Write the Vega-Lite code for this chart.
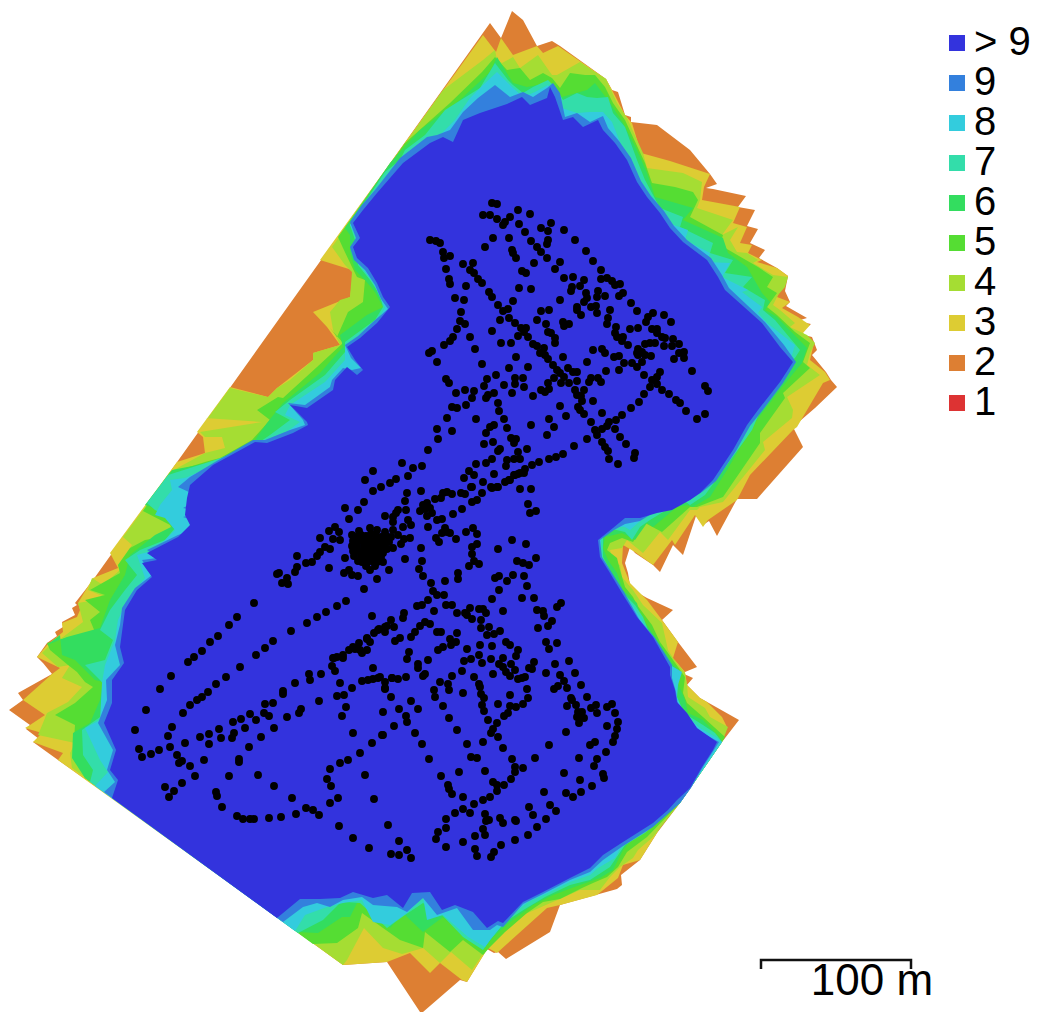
{"$schema":"https://vega.github.io/schema/vega-lite/v6.json","width":1037,"height":1012,"padding":0,"autosize":{"type":"none"},"background":"white","config":{"view":{"stroke":null}},"projection":{"type":"identity","scale":1,"translate":[0,0]},"datasets":{"zones":[
{"type":"Feature","properties":{"level":"2"},"geometry":{"type":"Polygon","coordinates":[[[490,23],[501,38],[512,11],[523,20],[537,46],[552,41],[560,46],[606,79],[612,90],[618,92],[625,115],[631,117],[631,122],[657,125],[690,150],[710,174],[717,184],[706,188],[713,189],[746,196],[738,207],[755,210],[747,226],[758,229],[750,243],[765,250],[759,258],[777,268],[788,276],[785,291],[790,302],[786,306],[807,318],[797,321],[811,324],[800,334],[812,337],[817,350],[812,355],[826,372],[831,380],[837,387],[815,408],[793,427],[803,447],[757,499],[737,499],[717,536],[709,521],[703,525],[696,516],[683,555],[673,545],[660,572],[653,565],[635,553],[630,547],[625,563],[628,573],[630,585],[633,590],[647,598],[673,610],[662,620],[678,642],[697,667],[685,672],[684,674],[693,678],[687,685],[700,698],[739,720],[722,742],[680,803],[657,833],[640,860],[621,875],[622,885],[617,889],[560,905],[550,932],[506,959],[498,952],[494,953],[487,949],[467,982],[460,980],[423,1012],[420,1012],[387,962],[343,965],[112,798],[58,760],[33,742],[39,739],[26,729],[30,725],[9,710],[23,700],[18,693],[52,674],[43,663],[37,657],[47,643],[57,636],[55,632],[63,627],[62,622],[75,615],[72,608],[77,605],[75,603],[93,580],[490,23]]]}},
{"type":"Feature","properties":{"level":"3"},"geometry":{"type":"Polygon","coordinates":[[[483,35],[496,52],[501,38],[513,55],[537,46],[543,53],[558,46],[606,79],[612,90],[625,115],[632,123],[641,153],[670,161],[710,174],[704,187],[702,200],[740,207],[733,223],[747,227],[740,243],[752,245],[748,253],[762,260],[757,262],[777,268],[788,276],[777,297],[790,302],[782,308],[798,317],[810,325],[803,333],[814,343],[810,360],[825,372],[830,380],[823,383],[797,427],[793,430],[750,475],[737,500],[708,520],[703,527],[695,515],[675,545],[672,540],[653,565],[635,552],[623,545],[622,563],[630,583],[647,600],[662,620],[678,642],[673,658],[685,672],[687,685],[700,698],[707,702],[722,717],[727,727],[720,743],[680,803],[668,813],[657,833],[640,860],[623,865],[618,878],[597,895],[560,905],[547,908],[497,953],[488,948],[467,982],[462,980],[440,963],[430,973],[410,953],[387,962],[343,965],[58,760],[63,753],[33,742],[42,733],[25,728],[30,725],[45,715],[23,700],[52,674],[60,668],[37,657],[47,645],[63,632],[62,623],[77,617],[80,610],[78,603],[93,578],[118,568],[110,553],[177,462],[205,453],[203,437],[197,432],[230,387],[268,397],[277,388],[313,360],[313,353],[340,345],[327,327],[313,312],[350,297],[352,283],[352,270],[320,260],[483,35]]]}},
{"type":"Feature","properties":{"level":"4"},"geometry":{"type":"Polygon","coordinates":[[[443,90],[483,60],[495,50],[497,60],[502,63],[513,57],[520,68],[538,55],[552,75],[557,75],[580,62],[592,70],[606,79],[617,103],[627,118],[643,153],[647,168],[683,173],[702,182],[700,200],[697,208],[733,220],[722,235],[738,227],[730,240],[737,252],[747,253],[758,260],[753,263],[773,275],[788,277],[785,287],[778,295],[773,305],[780,310],[795,323],[790,327],[807,335],[815,343],[810,353],[807,365],[820,375],[787,397],[793,410],[792,418],[763,442],[765,450],[723,502],[700,507],[697,510],[690,510],[668,540],[660,532],[643,553],[627,540],[622,548],[610,550],[613,562],[620,565],[622,577],[627,583],[633,590],[643,605],[662,623],[668,650],[673,658],[685,673],[687,685],[688,697],[705,708],[710,717],[728,727],[722,742],[680,803],[653,837],[638,850],[633,858],[620,867],[610,877],[600,890],[580,890],[562,898],[523,915],[503,933],[492,942],[487,948],[472,970],[451,952],[440,963],[423,948],[402,954],[383,948],[364,928],[347,960],[343,965],[72,768],[70,753],[75,743],[38,735],[43,723],[47,713],[68,702],[82,687],[62,678],[70,665],[58,667],[42,653],[48,647],[63,637],[83,622],[80,610],[78,603],[107,598],[88,590],[92,578],[103,585],[120,570],[118,565],[132,545],[123,537],[143,510],[170,472],[205,453],[225,448],[222,437],[205,437],[200,432],[262,422],[205,418],[208,418],[230,388],[268,397],[277,388],[290,380],[313,360],[313,353],[340,345],[333,330],[330,312],[340,300],[350,297],[352,272],[345,265],[332,247],[443,90]]]}},
{"type":"Feature","properties":{"level":"5"},"geometry":{"type":"Polygon","coordinates":[[[405,143],[450,103],[482,72],[495,57],[507,70],[520,68],[530,80],[543,73],[552,78],[560,88],[570,73],[585,75],[595,75],[605,87],[613,103],[625,120],[645,163],[652,183],[675,187],[693,192],[698,200],[690,217],[723,235],[720,245],[758,267],[773,277],[767,287],[777,293],[767,307],[777,315],[795,332],[810,343],[803,362],[810,368],[783,393],[785,398],[760,433],[760,443],[723,497],[697,507],[690,507],[662,532],[645,523],[633,542],[622,538],[610,543],[607,550],[617,558],[620,570],[625,587],[633,597],[637,605],[652,625],[660,642],[668,653],[678,667],[685,677],[683,693],[687,703],[703,717],[725,737],[722,742],[680,803],[647,837],[627,852],[618,867],[607,877],[593,883],[582,888],[560,899],[543,902],[527,913],[505,932],[490,947],[483,955],[463,940],[450,952],[425,932],[423,948],[400,940],[383,928],[362,913],[358,928],[337,943],[313,944],[85,778],[73,755],[75,725],[55,715],[75,703],[93,687],[85,682],[77,672],[68,665],[50,650],[47,643],[70,637],[95,632],[90,620],[100,612],[85,600],[105,595],[90,590],[120,573],[118,565],[130,548],[145,540],[175,535],[170,525],[143,511],[170,473],[205,462],[220,458],[252,440],[270,420],[257,410],[278,397],[283,398],[317,367],[343,343],[330,328],[337,337],[348,312],[363,302],[365,280],[357,277],[352,267],[343,248],[338,237],[405,143]]]}},
{"type":"Feature","properties":{"level":"6"},"geometry":{"type":"Polygon","coordinates":[[[390,163],[420,130],[460,100],[490,72],[497,57],[513,83],[527,87],[548,83],[562,97],[587,90],[595,83],[610,103],[623,123],[637,150],[647,173],[655,197],[693,208],[683,220],[723,238],[728,253],[747,267],[762,293],[770,302],[765,310],[777,317],[807,348],[802,363],[782,387],[753,425],[727,470],[710,497],[693,507],[687,505],[677,507],[653,527],[647,523],[635,540],[622,533],[605,537],[603,548],[608,560],[617,573],[623,590],[637,603],[640,615],[655,637],[672,663],[678,670],[678,683],[685,700],[688,713],[703,720],[720,738],[722,742],[680,803],[637,833],[623,850],[613,870],[600,878],[577,886],[553,895],[533,905],[510,922],[493,937],[483,950],[467,937],[443,917],[423,932],[403,913],[390,928],[373,907],[360,897],[350,917],[342,917],[318,933],[297,932],[85,778],[72,758],[73,733],[90,723],[100,700],[103,682],[95,680],[75,660],[62,655],[60,635],[47,645],[67,637],[100,628],[110,600],[125,575],[130,555],[155,535],[175,525],[160,510],[145,505],[172,470],[213,462],[253,443],[267,423],[283,403],[320,373],[343,347],[340,335],[367,315],[383,307],[375,292],[365,280],[355,270],[350,252],[350,235],[345,228],[390,163]]]}},
{"type":"Feature","properties":{"level":"7"},"geometry":{"type":"Polygon","coordinates":[[[385,172],[400,160],[405,150],[425,135],[445,110],[480,88],[495,63],[508,80],[513,85],[523,93],[533,87],[548,80],[555,87],[563,100],[577,93],[587,97],[597,98],[608,97],[613,113],[625,127],[637,160],[645,180],[660,208],[683,217],[680,227],[713,243],[710,253],[733,260],[725,273],[752,277],[743,287],[765,300],[763,310],[775,320],[800,350],[795,358],[785,365],[770,388],[752,430],[745,440],[705,495],[690,505],[683,500],[650,520],[640,527],[632,540],[625,532],[612,529],[603,535],[603,545],[603,557],[610,570],[622,592],[635,605],[643,617],[650,635],[665,660],[668,665],[678,670],[675,690],[677,702],[687,715],[703,725],[715,733],[722,742],[680,803],[668,813],[645,833],[625,845],[610,867],[590,880],[570,885],[545,897],[525,909],[505,922],[490,940],[483,950],[463,937],[442,915],[423,903],[405,915],[387,928],[360,903],[345,902],[340,903],[323,920],[298,933],[90,782],[93,770],[83,755],[82,730],[93,722],[103,715],[108,690],[100,680],[85,665],[105,660],[113,640],[100,630],[110,610],[125,590],[137,575],[125,560],[140,550],[165,540],[175,528],[165,515],[155,510],[147,503],[168,475],[190,468],[215,460],[255,445],[270,435],[290,420],[275,412],[290,400],[325,375],[345,352],[345,342],[375,320],[383,307],[380,295],[370,280],[358,265],[355,240],[350,225],[385,172]]]}},
{"type":"Feature","properties":{"level":"8"},"geometry":{"type":"Polygon","coordinates":[[[370,197],[375,190],[393,170],[400,165],[420,150],[440,135],[455,120],[470,98],[483,85],[497,72],[513,88],[523,97],[535,92],[548,85],[555,97],[562,108],[577,113],[590,112],[603,112],[612,122],[620,142],[630,167],[640,185],[653,207],[668,223],[688,230],[685,240],[710,253],[707,262],[730,263],[722,277],[748,290],[742,292],[762,307],[758,313],[767,323],[795,345],[792,355],[785,365],[770,385],[750,410],[742,425],[745,432],[720,465],[703,490],[688,500],[680,497],[660,510],[647,515],[630,530],[625,527],[612,526],[603,530],[601,541],[601,555],[610,572],[620,590],[632,605],[640,617],[650,635],[660,650],[667,662],[670,665],[682,672],[678,685],[677,697],[685,715],[700,728],[717,738],[722,742],[680,803],[668,813],[640,830],[625,840],[615,858],[598,868],[590,875],[570,882],[550,892],[528,902],[508,918],[490,940],[485,947],[468,937],[443,915],[427,920],[423,897],[407,913],[390,925],[373,922],[362,900],[343,903],[327,907],[305,915],[295,931],[95,786],[108,772],[100,760],[93,745],[85,728],[100,720],[102,683],[105,665],[115,640],[118,620],[125,605],[135,590],[145,578],[137,555],[155,550],[175,530],[165,518],[155,515],[160,505],[172,490],[170,480],[185,478],[215,465],[222,462],[255,447],[285,433],[300,422],[285,415],[290,405],[325,382],[345,360],[345,345],[375,325],[385,308],[378,293],[373,282],[360,265],[358,240],[350,225],[360,212],[368,205],[370,197]]]}},
{"type":"Feature","properties":{"level":"9"},"geometry":{"type":"Polygon","coordinates":[[[283,922],[303,907],[317,903],[330,907],[343,900],[362,897],[373,905],[397,907],[407,912],[423,898],[437,915],[457,908],[473,930],[490,930],[497,925],[503,927],[523,904],[543,894],[570,880],[590,872],[603,860],[623,846],[653,827],[670,812],[680,803],[691,788],[703,767],[714,750],[719,742],[699,731],[688,717],[678,705],[676,692],[672,678],[672,665],[655,638],[639,619],[624,592],[612,573],[602,557],[600,540],[614,530],[625,524],[640,521],[653,513],[647,498],[657,500],[660,510],[672,505],[690,500],[702,492],[716,481],[736,451],[750,426],[762,411],[783,383],[796,362],[784,345],[765,322],[729,288],[722,275],[711,258],[687,240],[674,226],[664,211],[651,196],[641,181],[631,158],[619,141],[608,128],[603,116],[590,122],[577,113],[565,117],[560,93],[553,83],[547,88],[533,97],[523,92],[510,97],[495,85],[478,98],[463,112],[450,130],[437,135],[427,137],[400,158],[375,190],[362,205],[350,222],[356,238],[350,247],[354,260],[365,270],[375,285],[381,299],[388,309],[374,321],[358,336],[345,345],[351,358],[361,368],[352,370],[343,368],[332,380],[330,387],[305,405],[288,403],[303,420],[305,425],[290,430],[265,440],[253,440],[215,462],[190,477],[178,487],[202,498],[183,508],[200,512],[183,517],[207,525],[178,535],[147,550],[157,558],[142,560],[152,575],[135,588],[122,608],[120,625],[115,645],[120,665],[106,680],[107,700],[98,723],[113,750],[107,770],[115,782],[104,792],[283,922]]]}},
{"type":"Feature","properties":{"level":"> 9"},"geometry":{"type":"Polygon","coordinates":[[[112,798],[277,918],[300,899],[320,899],[340,898],[353,892],[363,895],[373,898],[387,895],[403,908],[412,893],[430,892],[442,910],[455,905],[473,912],[487,928],[498,921],[503,923],[523,902],[543,892],[570,878],[590,868],[603,855],[623,842],[653,823],[668,810],[677,800],[690,788],[702,767],[713,750],[717,742],[697,728],[687,713],[677,702],[675,690],[670,675],[670,667],[653,637],[637,617],[622,593],[610,573],[600,557],[598,540],[613,528],[625,518],[640,518],[657,513],[672,510],[690,500],[700,493],[713,480],[733,450],[747,425],[758,410],[780,382],[793,362],[780,347],[762,323],[725,290],[718,277],[707,260],[683,242],[670,228],[660,213],[647,197],[637,182],[627,160],[615,143],[603,130],[598,120],[583,127],[573,117],[563,120],[555,97],[550,87],[547,98],[530,105],[522,97],[507,104],[480,113],[463,120],[453,142],[443,137],[430,143],[403,163],[377,193],[363,210],[353,223],[360,238],[353,247],[357,258],[368,268],[377,283],[383,297],[390,307],[377,323],[360,338],[347,347],[355,360],[363,370],[357,375],[347,367],[335,380],[333,390],[307,408],[290,405],[307,422],[308,425],[293,433],[267,443],[255,442],[213,465],[190,485],[187,498],[185,515],[190,525],[178,537],[147,553],[157,560],[142,563],[152,577],[137,590],[125,610],[120,647],[124,663],[112,680],[112,703],[104,723],[116,750],[110,770],[118,780],[112,798]]]}}
],"bar":[{"type":"Feature","properties":{"name":"scale"},"geometry":{"type":"LineString","coordinates":[[761,969],[761,960],[911,960],[911,969]]}}],
"note":[{"x":872,"y":995,"label":"100 m"}],
"gcps":[{"x":492,"y":203},{"x":497,"y":204},{"x":483,"y":215},{"x":490,"y":215},{"x":497,"y":219},{"x":503,"y":225},{"x":505,"y":222},{"x":510,"y":217},{"x":518,"y":210},{"x":530,"y":214},{"x":519,"y":224},{"x":525,"y":232},{"x":541,"y":228},{"x":548,"y":231},{"x":551,"y":223},{"x":564,"y":230},{"x":575,"y":240},{"x":586,"y":251},{"x":593,"y":261},{"x":601,"y":270},{"x":493,"y":238},{"x":485,"y":247},{"x":509,"y":238},{"x":512,"y":250},{"x":513,"y":253},{"x":516,"y":258},{"x":531,"y":241},{"x":537,"y":247},{"x":541,"y":252},{"x":547,"y":258},{"x":548,"y":240},{"x":547,"y":244},{"x":534,"y":263},{"x":560,"y":262},{"x":555,"y":269},{"x":522,"y":271},{"x":526,"y":273},{"x":430,"y":240},{"x":436,"y":241},{"x":440,"y":243},{"x":443,"y":252},{"x":444,"y":258},{"x":450,"y":256},{"x":446,"y":269},{"x":463,"y":264},{"x":473,"y":263},{"x":470,"y":270},{"x":474,"y":273},{"x":449,"y":279},{"x":450,"y":284},{"x":466,"y":286},{"x":478,"y":279},{"x":482,"y":283},{"x":489,"y":292},{"x":492,"y":297},{"x":455,"y":298},{"x":464,"y":300},{"x":498,"y":305},{"x":503,"y":311},{"x":508,"y":309},{"x":513,"y":301},{"x":519,"y":288},{"x":531,"y":289},{"x":461,"y":312},{"x":460,"y":321},{"x":465,"y":324},{"x":457,"y":329},{"x":453,"y":337},{"x":450,"y":341},{"x":444,"y":345},{"x":432,"y":351},{"x":429,"y":353},{"x":437,"y":362},{"x":470,"y":337},{"x":475,"y":349},{"x":482,"y":364},{"x":492,"y":331},{"x":500,"y":320},{"x":509,"y":318},{"x":515,"y":323},{"x":521,"y":328},{"x":526,"y":328},{"x":518,"y":336},{"x":524,"y":332},{"x":528,"y":337},{"x":533,"y":344},{"x":537,"y":346},{"x":544,"y":348},{"x":540,"y":353},{"x":545,"y":355},{"x":548,"y":359},{"x":553,"y":365},{"x":557,"y":370},{"x":560,"y":373},{"x":564,"y":377},{"x":501,"y":343},{"x":511,"y":343},{"x":516,"y":357},{"x":509,"y":368},{"x":528,"y":367},{"x":563,"y":357},{"x":587,"y":362},{"x":564,"y":278},{"x":573,"y":277},{"x":584,"y":280},{"x":580,"y":286},{"x":572,"y":287},{"x":571,"y":291},{"x":586,"y":293},{"x":587,"y":298},{"x":584,"y":302},{"x":560,"y":300},{"x":598,"y":291},{"x":597,"y":297},{"x":605,"y":296},{"x":601,"y":279},{"x":607,"y":278},{"x":612,"y":281},{"x":615,"y":285},{"x":620,"y":284},{"x":623,"y":293},{"x":619,"y":296},{"x":631,"y":303},{"x":637,"y":311},{"x":591,"y":307},{"x":596,"y":306},{"x":597,"y":313},{"x":577,"y":307},{"x":577,"y":310},{"x":581,"y":315},{"x":610,"y":310},{"x":608,"y":318},{"x":607,"y":324},{"x":541,"y":311},{"x":549,"y":310},{"x":537,"y":320},{"x":546,"y":324},{"x":548,"y":332},{"x":551,"y":333},{"x":555,"y":338},{"x":555,"y":343},{"x":563,"y":322},{"x":564,"y":326},{"x":569,"y":324},{"x":616,"y":327},{"x":615,"y":333},{"x":617,"y":337},{"x":623,"y":337},{"x":622,"y":341},{"x":628,"y":345},{"x":630,"y":329},{"x":638,"y":328},{"x":646,"y":322},{"x":648,"y":317},{"x":653,"y":313},{"x":664,"y":315},{"x":671,"y":322},{"x":652,"y":329},{"x":657,"y":329},{"x":657,"y":333},{"x":662,"y":337},{"x":665,"y":338},{"x":673,"y":339},{"x":664,"y":346},{"x":672,"y":346},{"x":679,"y":344},{"x":655,"y":343},{"x":650,"y":343},{"x":645,"y":344},{"x":638,"y":349},{"x":637,"y":353},{"x":642,"y":352},{"x":638,"y":355},{"x":645,"y":355},{"x":651,"y":356},{"x":642,"y":362},{"x":679,"y":353},{"x":684,"y":352},{"x":684,"y":358},{"x":674,"y":359},{"x":593,"y":350},{"x":602,"y":349},{"x":605,"y":353},{"x":614,"y":357},{"x":619,"y":356},{"x":624,"y":363},{"x":632,"y":363},{"x":637,"y":367},{"x":619,"y":370},{"x":606,"y":371},{"x":568,"y":368},{"x":573,"y":372},{"x":577,"y":372},{"x":644,"y":375},{"x":660,"y":372},{"x":657,"y":377},{"x":652,"y":380},{"x":655,"y":380},{"x":657,"y":384},{"x":650,"y":387},{"x":692,"y":371},{"x":705,"y":386},{"x":708,"y":391},{"x":662,"y":390},{"x":669,"y":394},{"x":676,"y":400},{"x":680,"y":403},{"x":686,"y":411},{"x":697,"y":419},{"x":705,"y":414},{"x":644,"y":394},{"x":639,"y":402},{"x":631,"y":408},{"x":622,"y":415},{"x":616,"y":420},{"x":609,"y":422},{"x":607,"y":426},{"x":602,"y":429},{"x":615,"y":429},{"x":620,"y":437},{"x":626,"y":444},{"x":635,"y":453},{"x":634,"y":458},{"x":618,"y":464},{"x":609,"y":459},{"x":608,"y":451},{"x":605,"y":447},{"x":602,"y":442},{"x":597,"y":435},{"x":595,"y":430},{"x":591,"y":422},{"x":584,"y":414},{"x":580,"y":410},{"x":578,"y":407},{"x":593,"y":401},{"x":602,"y":413},{"x":587,"y":439},{"x":574,"y":446},{"x":563,"y":454},{"x":556,"y":457},{"x":549,"y":459},{"x":539,"y":462},{"x":532,"y":465},{"x":525,"y":469},{"x":524,"y":473},{"x":518,"y":474},{"x":514,"y":475},{"x":509,"y":480},{"x":505,"y":482},{"x":515,"y":378},{"x":523,"y":378},{"x":515,"y":384},{"x":524,"y":387},{"x":504,"y":385},{"x":512,"y":393},{"x":533,"y":396},{"x":541,"y":390},{"x":545,"y":392},{"x":549,"y":389},{"x":548,"y":383},{"x":554,"y":378},{"x":561,"y":383},{"x":569,"y":383},{"x":577,"y":381},{"x":589,"y":382},{"x":591,"y":378},{"x":598,"y":378},{"x":601,"y":382},{"x":584,"y":390},{"x":575,"y":390},{"x":577,"y":395},{"x":581,"y":396},{"x":582,"y":401},{"x":560,"y":406},{"x":566,"y":416},{"x":549,"y":419},{"x":554,"y":427},{"x":547,"y":435},{"x":531,"y":425},{"x":496,"y":375},{"x":487,"y":379},{"x":484,"y":386},{"x":494,"y":393},{"x":488,"y":395},{"x":486,"y":398},{"x":446,"y":379},{"x":449,"y":383},{"x":456,"y":393},{"x":465,"y":390},{"x":474,"y":391},{"x":472,"y":398},{"x":466,"y":405},{"x":452,"y":407},{"x":457,"y":408},{"x":498,"y":403},{"x":499,"y":411},{"x":504,"y":419},{"x":507,"y":428},{"x":476,"y":419},{"x":447,"y":418},{"x":437,"y":429},{"x":452,"y":431},{"x":438,"y":439},{"x":428,"y":450},{"x":422,"y":466},{"x":413,"y":468},{"x":408,"y":476},{"x":396,"y":479},{"x":390,"y":483},{"x":381,"y":487},{"x":402,"y":463},{"x":373,"y":471},{"x":365,"y":480},{"x":494,"y":425},{"x":490,"y":427},{"x":486,"y":433},{"x":493,"y":442},{"x":484,"y":444},{"x":511,"y":438},{"x":516,"y":439},{"x":514,"y":443},{"x":500,"y":449},{"x":498,"y":451},{"x":527,"y":449},{"x":518,"y":452},{"x":520,"y":459},{"x":514,"y":459},{"x":507,"y":460},{"x":506,"y":466},{"x":492,"y":459},{"x":486,"y":463},{"x":476,"y":464},{"x":469,"y":471},{"x":464,"y":478},{"x":474,"y":475},{"x":494,"y":474},{"x":483,"y":482},{"x":471,"y":487},{"x":491,"y":487},{"x":497,"y":487},{"x":520,"y":489},{"x":531,"y":489},{"x":373,"y":491},{"x":364,"y":502},{"x":358,"y":510},{"x":345,"y":508},{"x":349,"y":519},{"x":335,"y":527},{"x":329,"y":531},{"x":339,"y":532},{"x":320,"y":538},{"x":333,"y":539},{"x":340,"y":540},{"x":325,"y":547},{"x":330,"y":549},{"x":320,"y":552},{"x":317,"y":556},{"x":297,"y":556},{"x":312,"y":562},{"x":306,"y":563},{"x":297,"y":567},{"x":295,"y":572},{"x":279,"y":573},{"x":277,"y":574},{"x":287,"y":578},{"x":282,"y":583},{"x":288,"y":584},{"x":329,"y":568},{"x":345,"y":558},{"x":344,"y":573},{"x":349,"y":570},{"x":352,"y":575},{"x":358,"y":576},{"x":377,"y":579},{"x":364,"y":589},{"x":389,"y":570},{"x":370,"y":570},{"x":405,"y":559},{"x":352,"y":535},{"x":359,"y":531},{"x":370,"y":528},{"x":377,"y":530},{"x":385,"y":532},{"x":393,"y":530},{"x":398,"y":535},{"x":356,"y":537},{"x":361,"y":535},{"x":366,"y":536},{"x":371,"y":534},{"x":376,"y":536},{"x":381,"y":537},{"x":386,"y":536},{"x":391,"y":537},{"x":353,"y":541},{"x":359,"y":541},{"x":364,"y":541},{"x":369,"y":540},{"x":374,"y":541},{"x":379,"y":542},{"x":384,"y":541},{"x":389,"y":542},{"x":352,"y":546},{"x":357,"y":546},{"x":364,"y":546},{"x":369,"y":546},{"x":374,"y":547},{"x":379,"y":546},{"x":384,"y":546},{"x":387,"y":549},{"x":353,"y":551},{"x":359,"y":551},{"x":364,"y":552},{"x":369,"y":551},{"x":374,"y":551},{"x":379,"y":552},{"x":383,"y":553},{"x":354,"y":556},{"x":361,"y":556},{"x":366,"y":557},{"x":371,"y":556},{"x":376,"y":556},{"x":381,"y":557},{"x":358,"y":561},{"x":362,"y":562},{"x":367,"y":563},{"x":372,"y":561},{"x":377,"y":562},{"x":383,"y":562},{"x":366,"y":566},{"x":375,"y":566},{"x":403,"y":527},{"x":411,"y":525},{"x":408,"y":520},{"x":393,"y":522},{"x":393,"y":517},{"x":398,"y":510},{"x":396,"y":513},{"x":385,"y":516},{"x":406,"y":510},{"x":405,"y":501},{"x":407,"y":493},{"x":421,"y":491},{"x":410,"y":538},{"x":404,"y":539},{"x":401,"y":544},{"x":393,"y":548},{"x":421,"y":548},{"x":422,"y":561},{"x":419,"y":569},{"x":423,"y":576},{"x":431,"y":583},{"x":433,"y":591},{"x":437,"y":595},{"x":444,"y":595},{"x":445,"y":581},{"x":458,"y":573},{"x":458,"y":579},{"x":428,"y":527},{"x":423,"y":505},{"x":427,"y":503},{"x":420,"y":511},{"x":425,"y":509},{"x":430,"y":508},{"x":427,"y":516},{"x":432,"y":513},{"x":437,"y":520},{"x":442,"y":519},{"x":435,"y":499},{"x":441,"y":498},{"x":443,"y":493},{"x":447,"y":492},{"x":452,"y":494},{"x":461,"y":493},{"x":465,"y":494},{"x":453,"y":514},{"x":462,"y":509},{"x":472,"y":502},{"x":477,"y":500},{"x":482,"y":493},{"x":472,"y":487},{"x":492,"y":488},{"x":498,"y":487},{"x":510,"y":480},{"x":515,"y":475},{"x":520,"y":473},{"x":528,"y":504},{"x":536,"y":511},{"x":530,"y":513},{"x":466,"y":532},{"x":473,"y":528},{"x":477,"y":534},{"x":477,"y":544},{"x":472,"y":547},{"x":472,"y":554},{"x":474,"y":561},{"x":479,"y":564},{"x":469,"y":566},{"x":498,"y":549},{"x":512,"y":540},{"x":526,"y":544},{"x":536,"y":558},{"x":517,"y":561},{"x":523,"y":563},{"x":529,"y":565},{"x":513,"y":575},{"x":524,"y":576},{"x":499,"y":576},{"x":495,"y":578},{"x":507,"y":581},{"x":527,"y":586},{"x":499,"y":590},{"x":492,"y":599},{"x":522,"y":598},{"x":534,"y":598},{"x":445,"y":528},{"x":442,"y":533},{"x":447,"y":532},{"x":450,"y":533},{"x":456,"y":539},{"x":436,"y":538},{"x":439,"y":542},{"x":346,"y":601},{"x":337,"y":606},{"x":326,"y":612},{"x":317,"y":617},{"x":307,"y":623},{"x":291,"y":631},{"x":273,"y":641},{"x":372,"y":616},{"x":404,"y":613},{"x":403,"y":618},{"x":391,"y":620},{"x":394,"y":627},{"x":385,"y":627},{"x":385,"y":632},{"x":378,"y":630},{"x":374,"y":633},{"x":367,"y":638},{"x":370,"y":642},{"x":359,"y":643},{"x":353,"y":647},{"x":349,"y":650},{"x":360,"y":650},{"x":367,"y":650},{"x":362,"y":653},{"x":343,"y":655},{"x":337,"y":657},{"x":333,"y":658},{"x":428,"y":600},{"x":417,"y":606},{"x":422,"y":605},{"x":434,"y":611},{"x":446,"y":605},{"x":452,"y":605},{"x":457,"y":613},{"x":465,"y":613},{"x":470,"y":608},{"x":467,"y":615},{"x":472,"y":619},{"x":479,"y":609},{"x":483,"y":609},{"x":486,"y":613},{"x":481,"y":620},{"x":481,"y":628},{"x":489,"y":627},{"x":487,"y":635},{"x":494,"y":634},{"x":500,"y":631},{"x":503,"y":611},{"x":537,"y":610},{"x":543,"y":611},{"x":544,"y":616},{"x":552,"y":621},{"x":548,"y":626},{"x":538,"y":628},{"x":561,"y":603},{"x":557,"y":607},{"x":420,"y":626},{"x":425,"y":622},{"x":430,"y":624},{"x":415,"y":632},{"x":411,"y":637},{"x":400,"y":638},{"x":395,"y":641},{"x":437,"y":632},{"x":441,"y":632},{"x":457,"y":633},{"x":450,"y":639},{"x":456,"y":642},{"x":451,"y":645},{"x":443,"y":647},{"x":438,"y":650},{"x":409,"y":652},{"x":467,"y":649},{"x":480,"y":645},{"x":479,"y":655},{"x":492,"y":646},{"x":506,"y":642},{"x":510,"y":645},{"x":518,"y":650},{"x":516,"y":656},{"x":546,"y":642},{"x":557,"y":643},{"x":549,"y":649},{"x":503,"y":658},{"x":407,"y":659},{"x":418,"y":664},{"x":418,"y":668},{"x":428,"y":660},{"x":464,"y":661},{"x":471,"y":659},{"x":482,"y":663},{"x":491,"y":659},{"x":499,"y":664},{"x":503,"y":667},{"x":506,"y":672},{"x":510,"y":676},{"x":511,"y":664},{"x":515,"y":670},{"x":529,"y":668},{"x":532,"y":669},{"x":534,"y":662},{"x":555,"y":664},{"x":569,"y":661},{"x":546,"y":673},{"x":560,"y":675},{"x":575,"y":673},{"x":462,"y":671},{"x":452,"y":676},{"x":425,"y":674},{"x":423,"y":676},{"x":406,"y":677},{"x":398,"y":679},{"x":392,"y":678},{"x":385,"y":682},{"x":380,"y":677},{"x":385,"y":688},{"x":391,"y":697},{"x":411,"y":701},{"x":399,"y":709},{"x":418,"y":709},{"x":383,"y":712},{"x":406,"y":716},{"x":407,"y":722},{"x":394,"y":726},{"x":383,"y":735},{"x":415,"y":733},{"x":422,"y":744},{"x":429,"y":759},{"x":440,"y":682},{"x":434,"y":690},{"x":435,"y":697},{"x":448,"y":684},{"x":449,"y":690},{"x":443,"y":706},{"x":449,"y":718},{"x":457,"y":730},{"x":463,"y":693},{"x":474,"y":677},{"x":479,"y":684},{"x":480,"y":687},{"x":481,"y":694},{"x":484,"y":698},{"x":482,"y":705},{"x":484,"y":711},{"x":488,"y":720},{"x":493,"y":674},{"x":498,"y":704},{"x":510,"y":695},{"x":510,"y":706},{"x":516,"y":707},{"x":508,"y":713},{"x":504,"y":716},{"x":497,"y":723},{"x":493,"y":729},{"x":491,"y":733},{"x":498,"y":737},{"x":483,"y":742},{"x":467,"y":744},{"x":503,"y":748},{"x":518,"y":679},{"x":522,"y":678},{"x":525,"y":677},{"x":527,"y":689},{"x":528,"y":698},{"x":523,"y":704},{"x":554,"y":689},{"x":558,"y":686},{"x":564,"y":681},{"x":567,"y":688},{"x":581,"y":685},{"x":571,"y":698},{"x":572,"y":700},{"x":587,"y":697},{"x":576,"y":705},{"x":567,"y":706},{"x":578,"y":712},{"x":582,"y":712},{"x":577,"y":717},{"x":580,"y":718},{"x":584,"y":718},{"x":579,"y":723},{"x":591,"y":708},{"x":596,"y":705},{"x":597,"y":713},{"x":607,"y":707},{"x":612,"y":704},{"x":615,"y":713},{"x":618,"y":722},{"x":617,"y":729},{"x":607,"y":726},{"x":615,"y":736},{"x":613,"y":742},{"x":595,"y":742},{"x":590,"y":745},{"x":606,"y":752},{"x":597,"y":759},{"x":594,"y":766},{"x":603,"y":774},{"x":604,"y":778},{"x":592,"y":786},{"x":580,"y":780},{"x":581,"y":792},{"x":573,"y":797},{"x":566,"y":793},{"x":564,"y":773},{"x":579,"y":758},{"x":566,"y":732},{"x":549,"y":745},{"x":535,"y":758},{"x":512,"y":759},{"x":515,"y":767},{"x":523,"y":768},{"x":515,"y":772},{"x":511,"y":779},{"x":504,"y":785},{"x":497,"y":791},{"x":493,"y":782},{"x":497,"y":785},{"x":490,"y":797},{"x":483,"y":800},{"x":474,"y":804},{"x":470,"y":813},{"x":463,"y":809},{"x":455,"y":813},{"x":446,"y":819},{"x":446,"y":828},{"x":438,"y":832},{"x":436,"y":839},{"x":446,"y":847},{"x":463,"y":842},{"x":475,"y":836},{"x":485,"y":835},{"x":483,"y":829},{"x":475,"y":849},{"x":477,"y":856},{"x":494,"y":852},{"x":491,"y":857},{"x":501,"y":845},{"x":515,"y":840},{"x":528,"y":835},{"x":537,"y":827},{"x":546,"y":819},{"x":556,"y":811},{"x":550,"y":805},{"x":544,"y":792},{"x":529,"y":807},{"x":533,"y":815},{"x":515,"y":820},{"x":516,"y":821},{"x":500,"y":818},{"x":503,"y":823},{"x":489,"y":820},{"x":486,"y":821},{"x":485,"y":814},{"x":441,"y":776},{"x":448,"y":785},{"x":449,"y":789},{"x":452,"y":794},{"x":463,"y":797},{"x":459,"y":772},{"x":471,"y":757},{"x":477,"y":758},{"x":485,"y":771},{"x":388,"y":825},{"x":399,"y":841},{"x":407,"y":850},{"x":391,"y":854},{"x":399,"y":855},{"x":411,"y":858},{"x":254,"y":603},{"x":237,"y":617},{"x":229,"y":625},{"x":218,"y":636},{"x":210,"y":642},{"x":202,"y":651},{"x":194,"y":657},{"x":188,"y":662},{"x":171,"y":676},{"x":160,"y":689},{"x":146,"y":710},{"x":135,"y":730},{"x":139,"y":749},{"x":142,"y":757},{"x":151,"y":754},{"x":159,"y":750},{"x":170,"y":747},{"x":168,"y":736},{"x":172,"y":727},{"x":183,"y":713},{"x":190,"y":705},{"x":197,"y":700},{"x":202,"y":697},{"x":208,"y":692},{"x":216,"y":684},{"x":226,"y":677},{"x":240,"y":667},{"x":256,"y":655},{"x":265,"y":648},{"x":185,"y":743},{"x":177,"y":755},{"x":182,"y":761},{"x":179,"y":763},{"x":190,"y":766},{"x":195,"y":776},{"x":182,"y":783},{"x":174,"y":791},{"x":165,"y":787},{"x":169,"y":797},{"x":204,"y":760},{"x":200,"y":737},{"x":209,"y":734},{"x":209,"y":744},{"x":219,"y":729},{"x":221,"y":738},{"x":232,"y":738},{"x":234,"y":733},{"x":233,"y":722},{"x":241,"y":719},{"x":245,"y":728},{"x":250,"y":714},{"x":256,"y":720},{"x":264,"y":713},{"x":269,"y":716},{"x":265,"y":704},{"x":273,"y":703},{"x":287,"y":717},{"x":274,"y":728},{"x":261,"y":737},{"x":249,"y":747},{"x":239,"y":759},{"x":239,"y":762},{"x":229,"y":776},{"x":258,"y":775},{"x":274,"y":786},{"x":216,"y":792},{"x":217,"y":796},{"x":222,"y":807},{"x":237,"y":816},{"x":243,"y":819},{"x":250,"y":819},{"x":254,"y":819},{"x":269,"y":818},{"x":281,"y":817},{"x":292,"y":798},{"x":296,"y":814},{"x":306,"y":808},{"x":313,"y":810},{"x":319,"y":815},{"x":330,"y":803},{"x":338,"y":798},{"x":339,"y":826},{"x":353,"y":838},{"x":369,"y":848},{"x":374,"y":799},{"x":331,"y":786},{"x":327,"y":779},{"x":330,"y":769},{"x":340,"y":763},{"x":348,"y":760},{"x":360,"y":753},{"x":372,"y":743},{"x":382,"y":735},{"x":365,"y":775},{"x":353,"y":733},{"x":283,"y":691},{"x":283,"y":694},{"x":295,"y":683},{"x":309,"y":674},{"x":310,"y":680},{"x":321,"y":674},{"x":299,"y":713},{"x":301,"y":709},{"x":319,"y":701},{"x":337,"y":696},{"x":344,"y":695},{"x":352,"y":688},{"x":346,"y":707},{"x":342,"y":716},{"x":340,"y":683},{"x":335,"y":671},{"x":332,"y":666},{"x":334,"y":658},{"x":343,"y":658},{"x":355,"y":649},{"x":367,"y":639},{"x":379,"y":629},{"x":387,"y":626},{"x":362,"y":681},{"x":368,"y":680},{"x":373,"y":679},{"x":378,"y":678},{"x":392,"y":678},{"x":385,"y":689},{"x":373,"y":668}]
},
"layer":[
{"data":{"name":"zones"},"mark":{"type":"geoshape","strokeWidth":0},"encoding":{"color":{"field":"properties.level","type":"nominal","scale":{"domain":["> 9","9","8","7","6","5","4","3","2","1"],"range":["#3333DD","#3380DD","#33CCDD","#33DDAA","#33DD5F","#55DD33","#A5DD33","#DDCC33","#DD7F33","#DD3333"]},"legend":{"title":null,"orient":"none","legendX":937,"legendY":23,"symbolType":"square","symbolSize":256,"symbolStrokeWidth":0,"symbolOpacity":1,"labelFont":"Liberation Sans","labelFontSize":40,"labelColor":"#000","labelOffset":-3,"rowPadding":-3,"labelLimit":200}}}},
{"data":{"name":"bar"},"mark":{"type":"geoshape","filled":false,"stroke":"#111","strokeWidth":2.5},"encoding":{}},
{"data":{"name":"gcps"},"mark":{"type":"circle","color":"#000","size":62,"opacity":1},"encoding":{"longitude":{"field":"x","type":"quantitative"},"latitude":{"field":"y","type":"quantitative"}}},
{"data":{"name":"note"},"mark":{"type":"text","font":"Liberation Sans","fontSize":44,"baseline":"alphabetic","align":"center","color":"#000"},"encoding":{"longitude":{"field":"x","type":"quantitative"},"latitude":{"field":"y","type":"quantitative"},"text":{"field":"label"}}}
]}
